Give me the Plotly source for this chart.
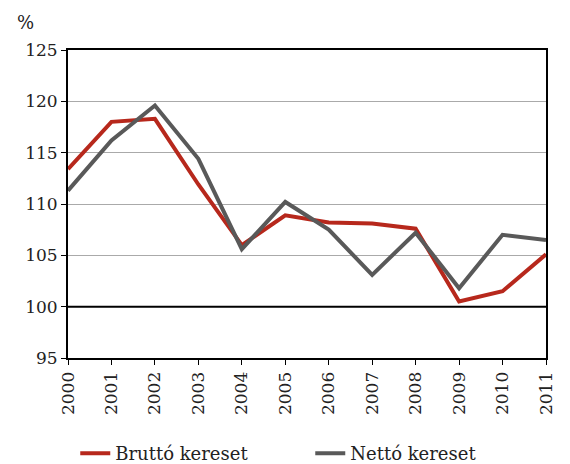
import plotly.graph_objects as go

years = list(range(2000, 2012))
brutto = [113.4, 118.0, 118.3, 111.9, 106.0, 108.9, 108.2, 108.1, 107.6, 100.5, 101.5, 105.1]
netto = [111.3, 116.2, 119.6, 114.4, 105.6, 110.2, 107.5, 103.1, 107.2, 101.8, 107.0, 106.5]

font_family = 'DejaVu Serif'

fig = go.Figure()
fig.add_trace(go.Scatter(
    x=years,
    y=brutto,
    mode='lines',
    name='Bruttó kereset',
    line=dict(color='#B7281C', width=4),
))
fig.add_trace(go.Scatter(
    x=years,
    y=netto,
    mode='lines',
    name='Nettó kereset',
    line=dict(color='#595959', width=4),
))

# 100-as vonal feketén
fig.add_hline(y=100, line=dict(color='black', width=2), layer='above')

fig.add_annotation(
    text='%', xref='paper', yref='paper', x=-0.11, y=1.05,
    xanchor='left', yanchor='bottom', showarrow=False,
    font=dict(family=font_family, size=18, color='#222'),
)

fig.update_layout(
    width=570,
    height=464,
    margin=dict(l=60, r=32, t=42, b=114),
    plot_bgcolor='white',
    paper_bgcolor='white',
    font=dict(family=font_family, size=17, color='#222'),
    showlegend=True,
    legend=dict(
        orientation='h',
        xref='container', x=0.118, xanchor='left',
        yref='container', y=0.04, yanchor='middle',
        entrywidth=190, entrywidthmode='pixels',
        font=dict(family=font_family, size=18),
    ),
    xaxis=dict(
        range=[2000, 2011],
        tickmode='array',
        tickvals=years,
        ticktext=[str(y) for y in years],
        tickangle=-90,
        ticks='outside',
        ticklen=5,
        tickcolor='black',
        showline=True,
        linecolor='black',
        linewidth=2,
        mirror=True,
        showgrid=False,
        zeroline=False,
        automargin=False,
    ),
    yaxis=dict(
        range=[95, 125],
        dtick=5,
        ticks='outside',
        ticklen=5,
        tickcolor='black',
        showline=True,
        linecolor='black',
        linewidth=2,
        mirror=True,
        showgrid=True,
        gridcolor='#aaaaaa',
        gridwidth=1,
        zeroline=False,
        automargin=False,
    ),
)

fig.write_html('out.html')
